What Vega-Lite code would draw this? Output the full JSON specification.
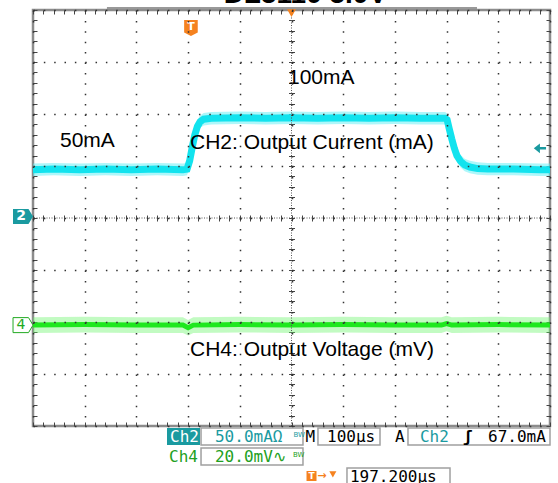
{
  "$schema": "https://vega.github.io/schema/vega-lite/v6.json",
  "width": 517,
  "height": 416,
  "autosize": {"type": "none"},
  "padding": {"left": 33, "top": 10, "right": 8, "bottom": 57},
  "background": "white",
  "config": {"view": {"stroke": "#8c8c8c", "strokeWidth": 2.5}},
  "data": {"values": [{}]},
  "datasets": {
    "ch2": [
      {"t": 0, "mid": 46.5, "lo": 40.5, "hi": 52.5},
      {"t": 40, "mid": 47, "lo": 41, "hi": 53},
      {"t": 90, "mid": 46.5, "lo": 40.5, "hi": 52.5},
      {"t": 140, "mid": 47, "lo": 41, "hi": 53},
      {"t": 190, "mid": 46.5, "lo": 40.5, "hi": 52.5},
      {"t": 240, "mid": 47, "lo": 41, "hi": 53},
      {"t": 290, "mid": 46.5, "lo": 40.5, "hi": 52.5},
      {"t": 298, "mid": 47, "lo": 41, "hi": 53},
      {"t": 303, "mid": 55, "lo": 49, "hi": 61},
      {"t": 308, "mid": 68, "lo": 62, "hi": 74},
      {"t": 313, "mid": 80, "lo": 74, "hi": 86},
      {"t": 318, "mid": 88, "lo": 82, "hi": 94},
      {"t": 323, "mid": 92.5, "lo": 86.5, "hi": 98.5},
      {"t": 330, "mid": 95, "lo": 89, "hi": 101},
      {"t": 345, "mid": 96, "lo": 90, "hi": 102},
      {"t": 400, "mid": 96.5, "lo": 90.5, "hi": 102.5},
      {"t": 450, "mid": 96, "lo": 90, "hi": 102},
      {"t": 500, "mid": 96.5, "lo": 90.5, "hi": 102.5},
      {"t": 550, "mid": 96, "lo": 90, "hi": 102},
      {"t": 600, "mid": 96.5, "lo": 90.5, "hi": 102.5},
      {"t": 650, "mid": 96, "lo": 90, "hi": 102},
      {"t": 700, "mid": 96.5, "lo": 90.5, "hi": 102.5},
      {"t": 750, "mid": 96, "lo": 90, "hi": 102},
      {"t": 797, "mid": 96, "lo": 90, "hi": 102},
      {"t": 801, "mid": 94.5, "lo": 88.5, "hi": 100.5},
      {"t": 805, "mid": 86, "lo": 80, "hi": 92},
      {"t": 810, "mid": 76, "lo": 70, "hi": 82},
      {"t": 815, "mid": 67, "lo": 61, "hi": 73},
      {"t": 820, "mid": 60, "lo": 54, "hi": 66},
      {"t": 827, "mid": 54.5, "lo": 48.5, "hi": 60.5},
      {"t": 835, "mid": 51, "lo": 45, "hi": 57},
      {"t": 845, "mid": 49, "lo": 43, "hi": 55},
      {"t": 860, "mid": 47.5, "lo": 41.5, "hi": 53.5},
      {"t": 880, "mid": 47, "lo": 41, "hi": 53},
      {"t": 930, "mid": 47, "lo": 41, "hi": 53},
      {"t": 980, "mid": 46.5, "lo": 40.5, "hi": 52.5},
      {"t": 1000, "mid": 46.5, "lo": 40.5, "hi": 52.5}
    ],
    "ch4": [
      {"t": 0, "mid": 0, "lo": -3, "hi": 3},
      {"t": 100, "mid": 0.2, "lo": -2.8, "hi": 3.2},
      {"t": 200, "mid": 0, "lo": -3, "hi": 3},
      {"t": 290, "mid": 0, "lo": -3, "hi": 3},
      {"t": 300, "mid": -1, "lo": -4, "hi": 2},
      {"t": 310, "mid": 0, "lo": -3, "hi": 3},
      {"t": 400, "mid": 0.2, "lo": -2.8, "hi": 3.2},
      {"t": 500, "mid": 0, "lo": -3, "hi": 3},
      {"t": 600, "mid": 0.2, "lo": -2.8, "hi": 3.2},
      {"t": 700, "mid": 0, "lo": -3, "hi": 3},
      {"t": 790, "mid": 0, "lo": -3, "hi": 3},
      {"t": 800, "mid": 0.6, "lo": -2.4, "hi": 3.6},
      {"t": 810, "mid": 0, "lo": -3, "hi": 3},
      {"t": 900, "mid": 0.2, "lo": -2.8, "hi": 3.2},
      {"t": 1000, "mid": 0, "lo": -3, "hi": 3}
    ]
  },
  "resolve": {
    "scale": {"x": "independent", "y": "independent"},
    "axis": {"x": "independent", "y": "independent"}
  },
  "layer": [
    {
      "data": {"name": "ch2"},
      "mark": {"type": "area", "color": "#5eeff5", "opacity": 0.5},
      "encoding": {
        "x": {"field": "t", "type": "quantitative", "scale": {"domain": [0, 1000], "nice": false, "zero": false},
          "axis": {"orient": "bottom", "values": [0,100,200,300,400,500,600,700,800,900,1000], "grid": true, "gridDash": [1.5, 8.9], "gridColor": "#333", "gridWidth": 1.5, "ticks": false, "labels": false, "domain": false, "title": null, "zindex": 1}},
        "y": {"field": "lo", "type": "quantitative", "scale": {"domain": [-200, 200], "nice": false, "zero": false},
          "axis": {"orient": "left", "values": [-200,-150,-100,-50,0,50,100,150,200], "grid": true, "gridDash": [1.5, 8.84], "gridColor": "#333", "gridWidth": 1.5, "ticks": false, "labels": false, "domain": false, "title": null, "zindex": 1}},
        "y2": {"field": "hi"}
      }
    },
    {
      "data": {"name": "ch2"},
      "mark": {"type": "line", "color": "#12e3ee", "strokeWidth": 7},
      "encoding": {
        "x": {"field": "t", "type": "quantitative", "scale": {"domain": [0, 1000], "nice": false, "zero": false},
          "axis": {"orient": "top", "values": [0,20,40,60,80,100,120,140,160,180,200,220,240,260,280,300,320,340,360,380,400,420,440,460,480,500,520,540,560,580,600,620,640,660,680,700,720,740,760,780,800,820,840,860,880,900,920,940,960,980,1000], "tickSize": -4, "tickColor": "#444", "tickWidth": 1, "labels": false, "domain": false, "grid": false, "title": null}},
        "y": {"field": "mid", "type": "quantitative", "scale": {"domain": [-200, 200], "nice": false, "zero": false},
          "axis": {"orient": "left", "values": [-200,-190,-180,-170,-160,-150,-140,-130,-120,-110,-100,-90,-80,-70,-60,-50,-40,-30,-20,-10,0,10,20,30,40,50,60,70,80,90,100,110,120,130,140,150,160,170,180,190,200], "tickSize": -4, "tickColor": "#444", "tickWidth": 1, "labels": false, "domain": false, "grid": false, "title": null}}
      }
    },
    {
      "data": {"name": "ch4"},
      "mark": {"type": "area", "color": "#66f566", "opacity": 0.4},
      "encoding": {
        "x": {"field": "t", "type": "quantitative", "scale": {"domain": [0, 1000], "nice": false, "zero": false},
          "axis": {"orient": "bottom", "values": [0,20,40,60,80,100,120,140,160,180,200,220,240,260,280,300,320,340,360,380,400,420,440,460,480,500,520,540,560,580,600,620,640,660,680,700,720,740,760,780,800,820,840,860,880,900,920,940,960,980,1000], "tickSize": -4, "tickColor": "#444", "tickWidth": 1, "labels": false, "domain": false, "grid": false, "title": null}},
        "y": {"field": "lo", "type": "quantitative", "scale": {"domain": [-38.8, 121.2], "nice": false, "zero": false}, "axis": null},
        "y2": {"field": "hi"}
      }
    },
    {
      "data": {"name": "ch4"},
      "mark": {"type": "line", "color": "#1ee81e", "strokeWidth": 5},
      "encoding": {
        "x": {"field": "t", "type": "quantitative", "scale": {"domain": [0, 1000], "nice": false, "zero": false}, "axis": null},
        "y": {"field": "mid", "type": "quantitative", "scale": {"domain": [-38.8, 121.2], "nice": false, "zero": false}, "axis": null}
      }
    },
    {
      "mark": {"type": "rule", "color": "#555", "strokeDash": [1, 1.5], "strokeWidth": 1},
      "encoding": {
        "x": {"datum": 500, "type": "quantitative", "scale": {"domain": [0, 1000], "nice": false, "zero": false},
          "axis": {"orient": "bottom", "offset": -211, "values": [0,20,40,60,80,100,120,140,160,180,200,220,240,260,280,300,320,340,360,380,400,420,440,460,480,500,520,540,560,580,600,620,640,660,680,700,720,740,760,780,800,820,840,860,880,900,920,940,960,980,1000], "tickSize": 6, "tickColor": "#444", "tickWidth": 1, "labels": false, "domain": false, "grid": false, "title": null}}
      }
    },
    {
      "mark": {"type": "rule", "color": "#555", "strokeDash": [1, 1.5], "strokeWidth": 1},
      "encoding": {
        "y": {"datum": 0, "type": "quantitative", "scale": {"domain": [-200, 200], "nice": false, "zero": false},
          "axis": {"orient": "left", "offset": -261.5, "values": [-200,-190,-180,-170,-160,-150,-140,-130,-120,-110,-100,-90,-80,-70,-60,-50,-40,-30,-20,-10,0,10,20,30,40,50,60,70,80,90,100,110,120,130,140,150,160,170,180,190,200], "tickSize": 6, "tickColor": "#444", "tickWidth": 1, "labels": false, "domain": false, "grid": false, "title": null}}
      }
    },
    {
      "mark": {"type": "text", "text": "100mA", "font": "Liberation Sans", "fontSize": 21, "align": "left", "baseline": "middle", "color": "black"},
      "encoding": {
        "x": {"datum": 493.2, "type": "quantitative", "scale": {"domain": [0, 1000], "nice": false, "zero": false}, "axis": null},
        "y": {"datum": 134.6, "type": "quantitative", "scale": {"domain": [-200, 200], "nice": false, "zero": false},
          "axis": {"orient": "right", "values": [-200,-190,-180,-170,-160,-150,-140,-130,-120,-110,-100,-90,-80,-70,-60,-50,-40,-30,-20,-10,0,10,20,30,40,50,60,70,80,90,100,110,120,130,140,150,160,170,180,190,200], "tickSize": -4, "tickColor": "#444", "tickWidth": 1, "labels": false, "domain": false, "grid": false, "title": null}}
      }
    },
    {
      "mark": {"type": "text", "text": "50mA", "font": "Liberation Sans", "fontSize": 21, "align": "left", "baseline": "middle", "color": "black"},
      "encoding": {
        "x": {"datum": 52.2, "type": "quantitative", "scale": {"domain": [0, 1000], "nice": false, "zero": false}, "axis": null},
        "y": {"datum": 74, "type": "quantitative", "scale": {"domain": [-200, 200], "nice": false, "zero": false}, "axis": null}
      }
    },
    {
      "mark": {"type": "text", "text": "CH2: Output Current (mA)", "font": "Liberation Sans", "fontSize": 21, "align": "left", "baseline": "middle", "color": "black"},
      "encoding": {
        "x": {"datum": 303.6, "type": "quantitative", "scale": {"domain": [0, 1000], "nice": false, "zero": false}, "axis": null},
        "y": {"datum": 72.1, "type": "quantitative", "scale": {"domain": [-200, 200], "nice": false, "zero": false}, "axis": null}
      }
    },
    {
      "mark": {"type": "text", "text": "CH4: Output Voltage (mV)", "font": "Liberation Sans", "fontSize": 21, "align": "left", "baseline": "middle", "color": "black"},
      "encoding": {
        "x": {"datum": 303.6, "type": "quantitative", "scale": {"domain": [0, 1000], "nice": false, "zero": false}, "axis": null},
        "y": {"datum": -126.9, "type": "quantitative", "scale": {"domain": [-200, 200], "nice": false, "zero": false}, "axis": null}
      }
    },
    {
      "mark": {"type": "text", "text": "DL5110 5.0V", "font": "Liberation Sans", "fontSize": 28, "fontWeight": "bold", "align": "center", "baseline": "alphabetic", "color": "black"},
      "encoding": {
        "x": {"datum": 526.8, "type": "quantitative", "scale": {"domain": [0, 1000], "nice": false, "zero": false}, "axis": null},
        "y": {"datum": 206.3, "type": "quantitative", "scale": {"domain": [-200, 200], "nice": false, "zero": false}, "axis": null}
      }
    },
    {
      "mark": {"type": "rule", "color": "#999", "strokeWidth": 2},
      "encoding": {
        "x": {"datum": 143, "type": "quantitative", "scale": {"domain": [0, 1000], "nice": false, "zero": false}, "axis": null},
        "x2": {"datum": 858.8},
        "y": {"datum": 201.9, "type": "quantitative", "scale": {"domain": [-200, 200], "nice": false, "zero": false}, "axis": null}
      }
    },
    {
      "mark": {"type": "point", "shape": "M-1,-0.75L0.55,-0.75L1,0L0.55,0.75L-1,0.75Z", "size": 400, "filled": true, "color": "#1a9aa0", "opacity": 1},
      "encoding": {
        "x": {"datum": -19.3, "type": "quantitative", "scale": {"domain": [0, 1000], "nice": false, "zero": false}, "axis": null},
        "y": {"datum": 1.5, "type": "quantitative", "scale": {"domain": [-200, 200], "nice": false, "zero": false}, "axis": null}
      }
    },
    {
      "mark": {"type": "text", "text": "2", "font": "DejaVu Sans", "fontSize": 14, "fontWeight": "bold", "align": "center", "baseline": "middle", "color": "white"},
      "encoding": {
        "x": {"datum": -23.2, "type": "quantitative", "scale": {"domain": [0, 1000], "nice": false, "zero": false}, "axis": null},
        "y": {"datum": 1.5, "type": "quantitative", "scale": {"domain": [-200, 200], "nice": false, "zero": false}, "axis": null}
      }
    },
    {
      "mark": {"type": "point", "shape": "M-1,-0.75L0.55,-0.75L1,0L0.55,0.75L-1,0.75Z", "size": 400, "filled": true, "fill": "white", "stroke": "#22aa22", "strokeWidth": 1, "opacity": 1},
      "encoding": {
        "x": {"datum": -19.3, "type": "quantitative", "scale": {"domain": [0, 1000], "nice": false, "zero": false}, "axis": null},
        "y": {"datum": 0, "type": "quantitative", "scale": {"domain": [-38.8, 121.2], "nice": false, "zero": false}, "axis": null}
      }
    },
    {
      "mark": {"type": "text", "text": "4", "font": "DejaVu Sans", "fontSize": 14, "align": "center", "baseline": "middle", "color": "#22aa22"},
      "encoding": {
        "x": {"datum": -23.2, "type": "quantitative", "scale": {"domain": [0, 1000], "nice": false, "zero": false}, "axis": null},
        "y": {"datum": 0, "type": "quantitative", "scale": {"domain": [-38.8, 121.2], "nice": false, "zero": false}, "axis": null}
      }
    },
    {
      "mark": {"type": "point", "shape": "M-0.85,-1L0.85,-1L0.85,0.55L0,1L-0.85,0.55Z", "size": 256, "filled": true, "color": "#f5821f", "opacity": 1},
      "encoding": {
        "x": {"datum": 305.5, "type": "quantitative", "scale": {"domain": [0, 1000], "nice": false, "zero": false}, "axis": null},
        "y": {"datum": 182.7, "type": "quantitative", "scale": {"domain": [-200, 200], "nice": false, "zero": false}, "axis": null}
      }
    },
    {
      "mark": {"type": "text", "text": "T", "font": "DejaVu Sans", "fontSize": 11, "fontWeight": "bold", "align": "center", "baseline": "middle", "color": "white"},
      "encoding": {
        "x": {"datum": 305.5, "type": "quantitative", "scale": {"domain": [0, 1000], "nice": false, "zero": false}, "axis": null},
        "y": {"datum": 183.5, "type": "quantitative", "scale": {"domain": [-200, 200], "nice": false, "zero": false}, "axis": null}
      }
    },
    {
      "mark": {"type": "point", "shape": "triangle-down", "size": 80, "filled": true, "color": "#f5821f", "opacity": 1},
      "encoding": {
        "x": {"datum": 500, "type": "quantitative", "scale": {"domain": [0, 1000], "nice": false, "zero": false}, "axis": null},
        "y": {"datum": 197, "type": "quantitative", "scale": {"domain": [-200, 200], "nice": false, "zero": false}, "axis": null}
      }
    },
    {
      "mark": {"type": "point", "shape": "M-1,0L0,-0.8L0,-0.2L1,-0.2L1,0.2L0,0.2L0,0.8Z", "size": 150, "filled": true, "color": "#1a9aa0", "opacity": 1},
      "encoding": {
        "x": {"datum": 980.5, "type": "quantitative", "scale": {"domain": [0, 1000], "nice": false, "zero": false}, "axis": null},
        "y": {"datum": 67, "type": "quantitative", "scale": {"domain": [-200, 200], "nice": false, "zero": false}, "axis": null}
      }
    },
    {
      "mark": {"type": "rect", "fill": "#1a9aa0"},
      "encoding": {
        "x": {"datum": 259.2, "type": "quantitative", "scale": {"domain": [0, 1000], "nice": false, "zero": false}, "axis": null},
        "x2": {"datum": 323},
        "y": {"datum": -201.9, "type": "quantitative", "scale": {"domain": [-200, 200], "nice": false, "zero": false}, "axis": null},
        "y2": {"datum": -218.3}
      }
    },
    {
      "mark": {"type": "rect", "fill": "white", "stroke": "#a0a0a0", "strokeWidth": 1.5},
      "encoding": {
        "x": {"datum": 325, "type": "quantitative", "scale": {"domain": [0, 1000], "nice": false, "zero": false}, "axis": null},
        "x2": {"datum": 522.2},
        "y": {"datum": -201.9, "type": "quantitative", "scale": {"domain": [-200, 200], "nice": false, "zero": false}, "axis": null},
        "y2": {"datum": -218.3}
      }
    },
    {
      "mark": {"type": "rect", "fill": "white", "stroke": "#a0a0a0", "strokeWidth": 1.5},
      "encoding": {
        "x": {"datum": 551.2, "type": "quantitative", "scale": {"domain": [0, 1000], "nice": false, "zero": false}, "axis": null},
        "x2": {"datum": 671.2},
        "y": {"datum": -201.9, "type": "quantitative", "scale": {"domain": [-200, 200], "nice": false, "zero": false}, "axis": null},
        "y2": {"datum": -218.3}
      }
    },
    {
      "mark": {"type": "rect", "fill": "white", "stroke": "#a0a0a0", "strokeWidth": 1.5},
      "encoding": {
        "x": {"datum": 725.3, "type": "quantitative", "scale": {"domain": [0, 1000], "nice": false, "zero": false}, "axis": null},
        "x2": {"datum": 1000},
        "y": {"datum": -201.9, "type": "quantitative", "scale": {"domain": [-200, 200], "nice": false, "zero": false}, "axis": null},
        "y2": {"datum": -218.3}
      }
    },
    {
      "mark": {"type": "rect", "fill": "white", "stroke": "#a0a0a0", "strokeWidth": 1.5},
      "encoding": {
        "x": {"datum": 325, "type": "quantitative", "scale": {"domain": [0, 1000], "nice": false, "zero": false}, "axis": null},
        "x2": {"datum": 522.2},
        "y": {"datum": -221.2, "type": "quantitative", "scale": {"domain": [-200, 200], "nice": false, "zero": false}, "axis": null},
        "y2": {"datum": -237.5}
      }
    },
    {
      "mark": {"type": "rect", "fill": "white", "stroke": "#a0a0a0", "strokeWidth": 1.5},
      "encoding": {
        "x": {"datum": 607.3, "type": "quantitative", "scale": {"domain": [0, 1000], "nice": false, "zero": false}, "axis": null},
        "x2": {"datum": 806.6},
        "y": {"datum": -240.4, "type": "quantitative", "scale": {"domain": [-200, 200], "nice": false, "zero": false}, "axis": null},
        "y2": {"datum": -262}
      }
    },
    {
      "mark": {"type": "text", "text": "Ch2", "font": "DejaVu Sans Mono", "fontSize": 16, "align": "left", "baseline": "middle", "color": "white"},
      "encoding": {
        "x": {"datum": 265, "type": "quantitative", "scale": {"domain": [0, 1000], "nice": false, "zero": false}, "axis": null},
        "y": {"datum": -210.6, "type": "quantitative", "scale": {"domain": [-200, 200], "nice": false, "zero": false}, "axis": null}
      }
    },
    {
      "mark": {"type": "text", "text": "50.0mAΩ", "font": "DejaVu Sans Mono", "fontSize": 16, "align": "left", "baseline": "middle", "color": "#1a9aa0"},
      "encoding": {
        "x": {"datum": 352, "type": "quantitative", "scale": {"domain": [0, 1000], "nice": false, "zero": false}, "axis": null},
        "y": {"datum": -210.6, "type": "quantitative", "scale": {"domain": [-200, 200], "nice": false, "zero": false}, "axis": null}
      }
    },
    {
      "mark": {"type": "text", "text": "BW", "font": "DejaVu Sans", "fontSize": 7, "align": "left", "baseline": "middle", "color": "#1a9aa0"},
      "encoding": {
        "x": {"datum": 504, "type": "quantitative", "scale": {"domain": [0, 1000], "nice": false, "zero": false}, "axis": null},
        "y": {"datum": -208.5, "type": "quantitative", "scale": {"domain": [-200, 200], "nice": false, "zero": false}, "axis": null}
      }
    },
    {
      "mark": {"type": "text", "text": "M", "font": "DejaVu Sans Mono", "fontSize": 16, "align": "left", "baseline": "middle", "color": "black"},
      "encoding": {
        "x": {"datum": 527, "type": "quantitative", "scale": {"domain": [0, 1000], "nice": false, "zero": false}, "axis": null},
        "y": {"datum": -210.6, "type": "quantitative", "scale": {"domain": [-200, 200], "nice": false, "zero": false}, "axis": null}
      }
    },
    {
      "mark": {"type": "text", "text": "100µs", "font": "DejaVu Sans Mono", "fontSize": 16, "align": "left", "baseline": "middle", "color": "black"},
      "encoding": {
        "x": {"datum": 568.7, "type": "quantitative", "scale": {"domain": [0, 1000], "nice": false, "zero": false}, "axis": null},
        "y": {"datum": -210.6, "type": "quantitative", "scale": {"domain": [-200, 200], "nice": false, "zero": false}, "axis": null}
      }
    },
    {
      "mark": {"type": "text", "text": "A", "font": "DejaVu Sans Mono", "fontSize": 16, "align": "left", "baseline": "middle", "color": "black"},
      "encoding": {
        "x": {"datum": 700.2, "type": "quantitative", "scale": {"domain": [0, 1000], "nice": false, "zero": false}, "axis": null},
        "y": {"datum": -210.6, "type": "quantitative", "scale": {"domain": [-200, 200], "nice": false, "zero": false}, "axis": null}
      }
    },
    {
      "mark": {"type": "text", "text": "Ch2", "font": "DejaVu Sans Mono", "fontSize": 16, "align": "left", "baseline": "middle", "color": "#1a9aa0"},
      "encoding": {
        "x": {"datum": 748.5, "type": "quantitative", "scale": {"domain": [0, 1000], "nice": false, "zero": false}, "axis": null},
        "y": {"datum": -210.6, "type": "quantitative", "scale": {"domain": [-200, 200], "nice": false, "zero": false}, "axis": null}
      }
    },
    {
      "mark": {"type": "text", "text": "ʃ", "font": "DejaVu Sans Mono", "fontSize": 16, "fontWeight": "bold", "align": "left", "baseline": "middle", "color": "black"},
      "encoding": {
        "x": {"datum": 831.7, "type": "quantitative", "scale": {"domain": [0, 1000], "nice": false, "zero": false}, "axis": null},
        "y": {"datum": -210.6, "type": "quantitative", "scale": {"domain": [-200, 200], "nice": false, "zero": false}, "axis": null}
      }
    },
    {
      "mark": {"type": "text", "text": "67.0mA", "font": "DejaVu Sans Mono", "fontSize": 16, "align": "left", "baseline": "middle", "color": "black"},
      "encoding": {
        "x": {"datum": 880.1, "type": "quantitative", "scale": {"domain": [0, 1000], "nice": false, "zero": false}, "axis": null},
        "y": {"datum": -210.6, "type": "quantitative", "scale": {"domain": [-200, 200], "nice": false, "zero": false}, "axis": null}
      }
    },
    {
      "mark": {"type": "text", "text": "Ch4", "font": "DejaVu Sans Mono", "fontSize": 16, "align": "left", "baseline": "middle", "color": "#22a022"},
      "encoding": {
        "x": {"datum": 263.1, "type": "quantitative", "scale": {"domain": [0, 1000], "nice": false, "zero": false}, "axis": null},
        "y": {"datum": -229.8, "type": "quantitative", "scale": {"domain": [-200, 200], "nice": false, "zero": false}, "axis": null}
      }
    },
    {
      "mark": {"type": "text", "text": "20.0mV∿", "font": "DejaVu Sans Mono", "fontSize": 16, "align": "left", "baseline": "middle", "color": "#22a022"},
      "encoding": {
        "x": {"datum": 352, "type": "quantitative", "scale": {"domain": [0, 1000], "nice": false, "zero": false}, "axis": null},
        "y": {"datum": -229.8, "type": "quantitative", "scale": {"domain": [-200, 200], "nice": false, "zero": false}, "axis": null}
      }
    },
    {
      "mark": {"type": "text", "text": "BW", "font": "DejaVu Sans", "fontSize": 7, "align": "left", "baseline": "middle", "color": "#22a022"},
      "encoding": {
        "x": {"datum": 503, "type": "quantitative", "scale": {"domain": [0, 1000], "nice": false, "zero": false}, "axis": null},
        "y": {"datum": -227.7, "type": "quantitative", "scale": {"domain": [-200, 200], "nice": false, "zero": false}, "axis": null}
      }
    },
    {
      "mark": {"type": "point", "shape": "square", "size": 100, "filled": true, "color": "#f5821f", "opacity": 1},
      "encoding": {
        "x": {"datum": 538.7, "type": "quantitative", "scale": {"domain": [0, 1000], "nice": false, "zero": false}, "axis": null},
        "y": {"datum": -248.1, "type": "quantitative", "scale": {"domain": [-200, 200], "nice": false, "zero": false}, "axis": null}
      }
    },
    {
      "mark": {"type": "text", "text": "T", "font": "DejaVu Sans", "fontSize": 9, "fontWeight": "bold", "align": "center", "baseline": "middle", "color": "white"},
      "encoding": {
        "x": {"datum": 538.7, "type": "quantitative", "scale": {"domain": [0, 1000], "nice": false, "zero": false}, "axis": null},
        "y": {"datum": -248.1, "type": "quantitative", "scale": {"domain": [-200, 200], "nice": false, "zero": false}, "axis": null}
      }
    },
    {
      "mark": {"type": "text", "text": "→", "font": "DejaVu Sans", "fontSize": 11, "fontWeight": "bold", "align": "left", "baseline": "middle", "color": "#f5821f"},
      "encoding": {
        "x": {"datum": 550, "type": "quantitative", "scale": {"domain": [0, 1000], "nice": false, "zero": false}, "axis": null},
        "y": {"datum": -248.1, "type": "quantitative", "scale": {"domain": [-200, 200], "nice": false, "zero": false}, "axis": null}
      }
    },
    {
      "mark": {"type": "point", "shape": "triangle-down", "size": 50, "filled": true, "color": "#f5821f", "opacity": 1},
      "encoding": {
        "x": {"datum": 580, "type": "quantitative", "scale": {"domain": [0, 1000], "nice": false, "zero": false}, "axis": null},
        "y": {"datum": -246.5, "type": "quantitative", "scale": {"domain": [-200, 200], "nice": false, "zero": false}, "axis": null}
      }
    },
    {
      "mark": {"type": "text", "text": "197.200µs", "font": "DejaVu Sans Mono", "fontSize": 16, "align": "left", "baseline": "middle", "color": "black"},
      "encoding": {
        "x": {"datum": 613.1, "type": "quantitative", "scale": {"domain": [0, 1000], "nice": false, "zero": false}, "axis": null},
        "y": {"datum": -249.5, "type": "quantitative", "scale": {"domain": [-200, 200], "nice": false, "zero": false}, "axis": null}
      }
    }
  ]
}
